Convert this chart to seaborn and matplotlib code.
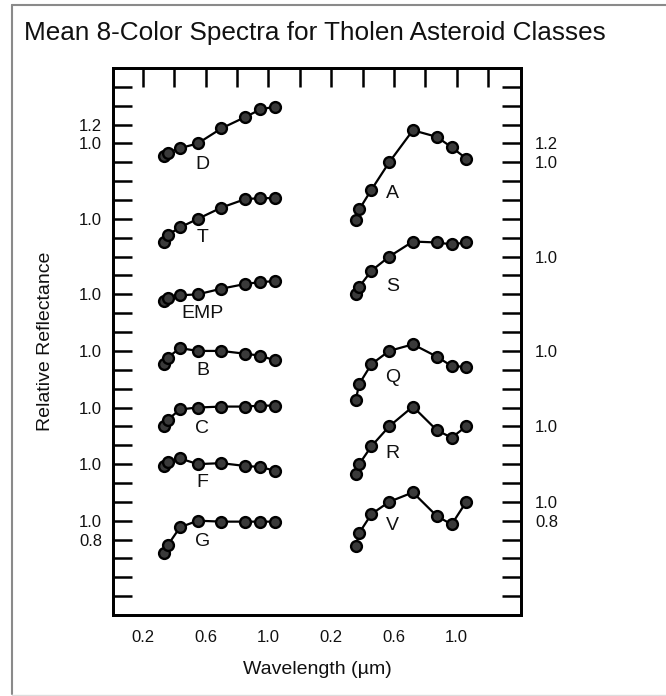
import numpy as np
import pandas as pd
import matplotlib
matplotlib.use("Agg")
import matplotlib.pyplot as plt
import seaborn as sns
from matplotlib.lines import Line2D

# ---------------- data ----------------
wavelengths = [0.337, 0.359, 0.437, 0.550, 0.701, 0.853, 0.948, 1.041]

left_classes = ["D", "T", "EMP", "B", "C", "F", "G"]
right_classes = ["A", "S", "Q", "R", "V"]

refl_D = [0.87, 0.90, 0.95, 1.00, 1.16, 1.28, 1.36, 1.39]
refl_T = [0.76, 0.83, 0.91, 1.00, 1.12, 1.21, 1.22, 1.22]
refl_EMP = [0.93, 0.96, 0.99, 1.00, 1.06, 1.11, 1.13, 1.14]
refl_B = [0.86, 0.93, 1.03, 1.00, 1.00, 0.97, 0.95, 0.90]
refl_C = [0.80, 0.87, 0.98, 1.00, 1.01, 1.01, 1.02, 1.02]
refl_F = [0.98, 1.02, 1.06, 1.00, 1.01, 0.98, 0.97, 0.93]
refl_G = [0.66, 0.74, 0.93, 1.00, 0.99, 0.99, 0.99, 0.99]

refl_A = [0.39, 0.50, 0.71, 1.00, 1.34, 1.27, 1.16, 1.04]
refl_S = [0.60, 0.68, 0.85, 1.00, 1.16, 1.15, 1.13, 1.15]
refl_Q = [0.48, 0.65, 0.86, 1.00, 1.07, 0.94, 0.84, 0.83]
refl_R = [0.49, 0.60, 0.79, 1.00, 1.21, 0.96, 0.88, 1.00]
refl_V = [0.53, 0.67, 0.87, 1.00, 1.10, 0.85, 0.76, 1.00]

spectra = {"D": refl_D, "T": refl_T, "EMP": refl_EMP, "B": refl_B, "C": refl_C,
           "F": refl_F, "G": refl_G, "A": refl_A, "S": refl_S, "Q": refl_Q,
           "R": refl_R, "V": refl_V}

# vertical stacking shift of each class (reflectance units)
stack_shift = {"D": 4.0, "T": 3.2, "EMP": 2.4, "B": 1.8, "C": 1.2, "F": 0.6, "G": 0.0,
               "A": 3.8, "S": 2.8, "Q": 1.8, "R": 1.0, "V": 0.2}

# tick labels
left_tick_vals = [5.2, 5.0, 4.2, 3.4, 2.8, 2.2, 1.6, 1.0, 0.8]
left_tick_text = ["1.2", "1.0", "1.0", "1.0", "1.0", "1.0", "1.0", "1.0", "0.8"]
right_tick_vals = [5.0, 4.8, 3.8, 2.8, 2.0, 1.2, 1.0]
right_tick_text = ["1.2", "1.0", "1.0", "1.0", "1.0", "1.0", "0.8"]
x_tick_text = ["0.2", "", "0.6", "", "1.0", "", "0.2", "", "0.6", "", "1.0", ""]

# ---------------- layout constants ----------------
right_panel_shift = 1.22
label_dy = {"D": -0.22, "T": -0.20, "EMP": -0.20, "B": -0.21, "C": -0.22, "F": -0.20,
            "G": -0.22, "A": -0.33, "S": -0.32, "Q": -0.28, "R": -0.29, "V": -0.25}

rows = []
for c in left_classes + right_classes:
    xs = 0.0 if c in left_classes else right_panel_shift
    for w, r in zip(wavelengths, spectra[c]):
        rows.append({"cls": c, "xpos": w + xs, "ypos": r + stack_shift[c]})
df = pd.DataFrame(rows)

sns.set_theme(style="white")
plt.rcParams["font.family"] = ["Liberation Sans", "DejaVu Sans"]

fig = plt.figure(figsize=(6.66, 6.96), dpi=100)
ax = fig.add_axes([113 / 666, 1 - 615 / 696, (521 - 113) / 666, (615 - 68) / 696])

for c in left_classes + right_classes:
    sub = df[df["cls"] == c]
    sns.lineplot(data=sub, x="xpos", y="ypos", ax=ax, color="black", sort=False,
                 estimator=None, linewidth=1.6, marker="o", markersize=7.8,
                 markerfacecolor="#3a3a3a", markeredgecolor="black",
                 markeredgewidth=1.7)
    xs = 0.58 if c in left_classes else 0.57 + right_panel_shift
    ax.text(xs, stack_shift[c] + 1.0 + label_dy[c], c, ha="center", va="center",
            fontsize=14, color="#111111")

ax.set_xlim(0.01, 2.61)
ax.set_ylim(0.0, 5.8)

yt = np.round(np.arange(0.2, 5.61, 0.2), 2)
ax.set_yticks(yt)
lmap = {round(v, 2): t for v, t in zip(left_tick_vals, left_tick_text)}
ax.set_yticklabels([lmap.get(round(v, 2), "") for v in yt])

xt = np.round(np.arange(0.2, 2.41, 0.2), 2)
ax.set_xticks(xt)
ax.set_xticklabels(x_tick_text)

ax2 = ax.twinx()
ax2.set_ylim(0.0, 5.8)
ax2.set_yticks(yt)
rmap = {round(v, 2): t for v, t in zip(right_tick_vals, right_tick_text)}
ax2.set_yticklabels([rmap.get(round(v, 2), "") for v in yt])
ax2.grid(False)

for a in (ax, ax2):
    for s in a.spines.values():
        s.set_linewidth(2.0)
        s.set_color("black")

ax.tick_params(axis="both", direction="in", length=14, width=1.8, color="black",
               labelsize=12, labelcolor="#111111", top=True, right=False)
ax.tick_params(axis="y", pad=8)
ax.tick_params(axis="x", pad=11)
ax2.tick_params(axis="y", direction="in", length=14, width=1.8, color="black",
                labelsize=12, labelcolor="#111111", pad=10, left=False)

ax.set_xlabel("Wavelength (µm)", fontsize=14, color="#111111", labelpad=11)
ax.set_ylabel("Relative Reflectance", fontsize=14, color="#111111", labelpad=18)

fig.text(24 / 666, 1 - 33 / 696, "Mean 8-Color Spectra for Tholen Asteroid Classes",
         fontsize=18.8, ha="left", va="center", color="#111111")

# outer frame
fig.add_artist(Line2D([11.5 / 666, 11.5 / 666], [1 - 5 / 696, 1 - 694 / 696],
                      transform=fig.transFigure, color="#8a8a8a", lw=1.5))
fig.add_artist(Line2D([11.5 / 666, 1.0], [1 - 5 / 696, 1 - 5 / 696],
                      transform=fig.transFigure, color="#8a8a8a", lw=1.5))
fig.add_artist(Line2D([11.5 / 666, 1.0], [1 - 694.5 / 696, 1 - 694.5 / 696],
                      transform=fig.transFigure, color="#dddddd", lw=1.0))

fig.savefig("out.png", dpi=100)
